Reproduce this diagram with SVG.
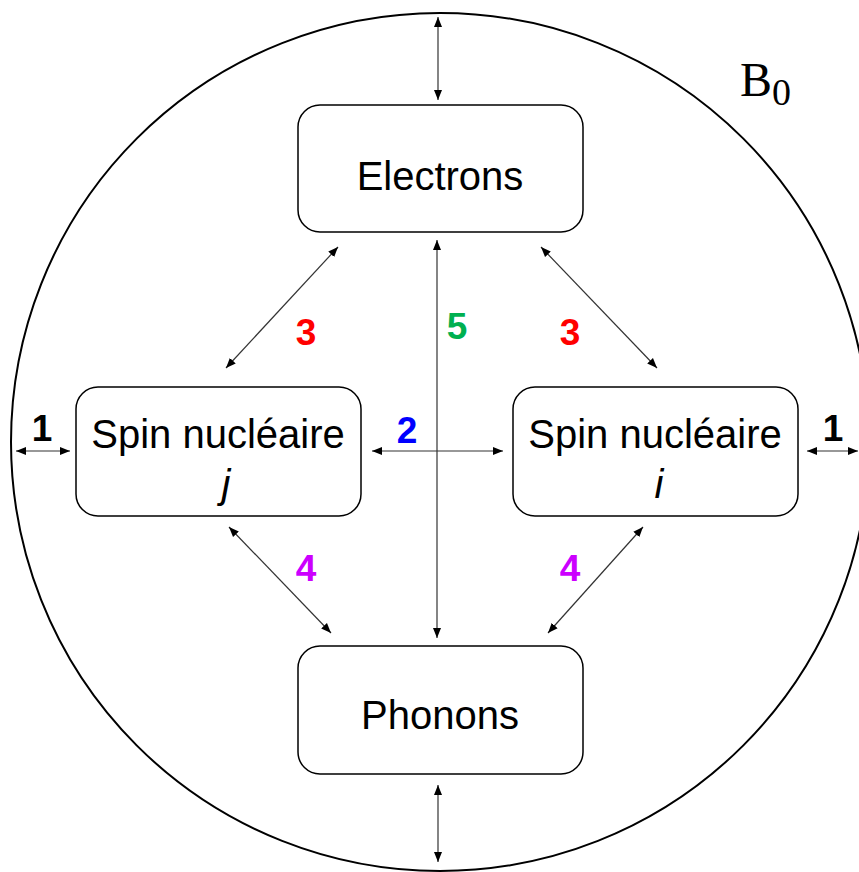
<svg xmlns="http://www.w3.org/2000/svg" width="859" height="872" viewBox="0 0 859 872">
<style>
.box{fill:#fff;stroke:#000;stroke-width:1.5}
.t{font-family:"Liberation Sans",Arial,sans-serif;font-size:40px;fill:#000;text-anchor:middle}
.n{font-family:"Liberation Sans",Arial,sans-serif;font-size:37px;font-weight:bold;text-anchor:middle}
.c line{stroke:#333;stroke-width:1.2;marker-start:url(#a);marker-end:url(#a)}
</style>
<defs>
<marker id="a" viewBox="0 0 10 10" refX="10" refY="5" markerWidth="10" markerHeight="10" markerUnits="userSpaceOnUse" orient="auto-start-reverse">
<path d="M0,1 L10,5 L0,9 Z" fill="#000"/>
</marker>
</defs>
<rect width="859" height="872" fill="#fff"/>
<circle id="field" cx="440" cy="442" r="429" fill="none" stroke="#000" stroke-width="2"/>
<text x="740" y="96" font-family="Liberation Serif,serif" font-size="48">B<tspan font-size="38" dy="9">0</tspan></text>
<g class="c" id="connectors">
<line x1="438" y1="17" x2="438" y2="100"/>
<line x1="438" y1="785" x2="438" y2="862"/>
<line x1="437" y1="240" x2="437" y2="638"/>
<line x1="372" y1="451" x2="503" y2="451"/>
<line x1="16" y1="451" x2="70" y2="451"/>
<line x1="807" y1="451" x2="858" y2="451"/>
<line x1="338" y1="247" x2="226" y2="368"/>
<line x1="541" y1="247" x2="657" y2="368"/>
<line x1="229" y1="527" x2="331" y2="633"/>
<line x1="643" y1="527" x2="548" y2="633"/>
</g>
<g id="electrons"><rect class="box" x="298" y="105" width="285" height="127" rx="22"/><text class="t" x="440" y="190">Electrons</text></g>
<g id="spin-j"><rect class="box" x="76" y="387" width="285" height="129" rx="22"/><text class="t" x="218" y="448">Spin nucléaire</text><text class="t" x="226" y="498" font-style="italic">j</text></g>
<g id="spin-i"><rect class="box" x="513" y="387" width="285" height="129" rx="22"/><text class="t" x="655" y="448">Spin nucléaire</text><text class="t" x="659" y="498" font-style="italic">i</text></g>
<g id="phonons"><rect class="box" x="298" y="646" width="285" height="128" rx="22"/><text class="t" x="440" y="729">Phonons</text></g>
<g id="labels">
<text class="n" x="306" y="345" fill="#ff0000">3</text>
<text class="n" x="570" y="345" fill="#ff0000">3</text>
<text class="n" x="457" y="339" fill="#00b050">5</text>
<text class="n" x="407" y="443" fill="#0000ff">2</text>
<text class="n" x="42" y="441" fill="#000">1</text>
<text class="n" x="833" y="441" fill="#000">1</text>
<text class="n" x="306" y="581" fill="#cc00ff">4</text>
<text class="n" x="570" y="581" fill="#cc00ff">4</text>
</g>
</svg>
